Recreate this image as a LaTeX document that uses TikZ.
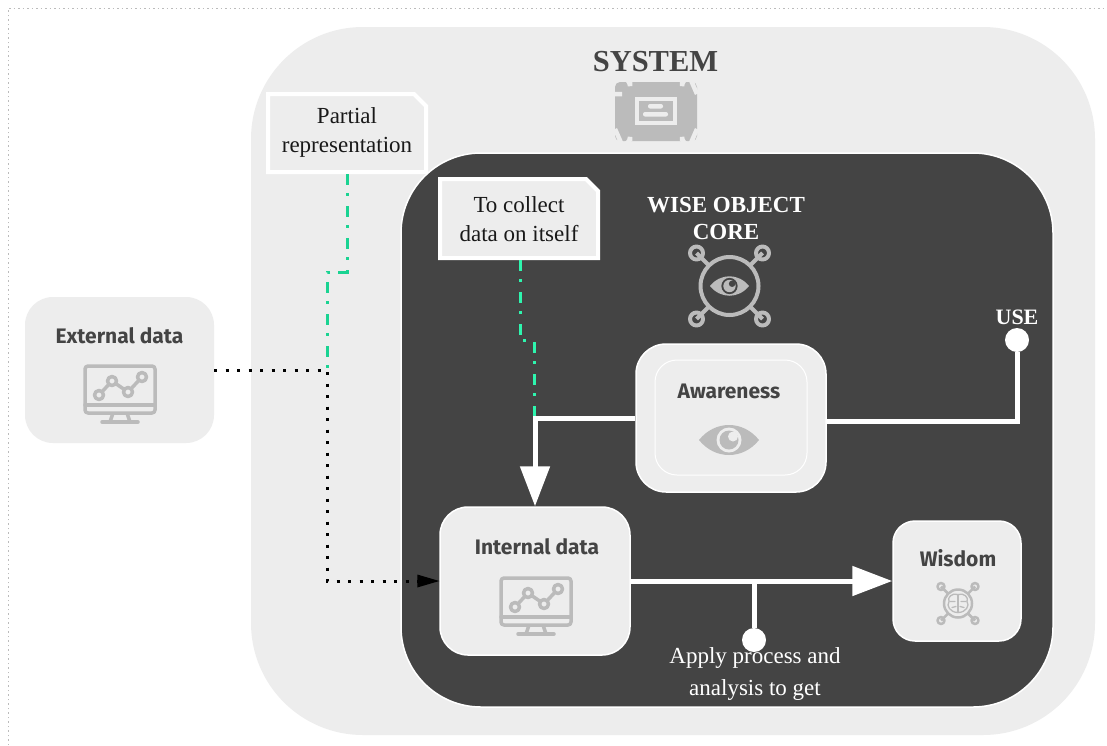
\documentclass[tikz,border=0pt]{standalone}
\usepackage{fontspec}
\setmainfont{Liberation Serif}
\newfontfamily\cardfont{Fira Sans}
\usetikzlibrary{arrows.meta,calc}
\definecolor{coredark}{HTML}{444444}
\definecolor{cardlight}{HTML}{EDEDED}
\definecolor{icongrey}{HTML}{BBBBBB}
\definecolor{greenlight}{HTML}{1AD392}
\definecolor{greendark}{HTML}{2EF5AE}
\tikzset{
  x=1pt,y=-1pt,
  card/.style={fill=cardlight,inner sep=0pt,rectangle},
  cardborder/.style={card,draw=white,line width=1.5pt},
  cardtitle/.style={inner sep=0pt,text=coredark,font=\cardfont\bfseries\fontsize{21}{25}\selectfont},
  serifbold/.style={inner sep=0pt,align=center,font=\bfseries},
  notetext/.style={inner sep=0pt,align=center,text=black!90,font=\fontsize{23}{28.5}\selectfont,minimum width=162pt},
  notebox/.style={fill=cardlight,draw=white,line width=4pt,line join=miter},
  wire/.style={draw=white,line width=5pt},
  bigtip/.style={-{Triangle[length=40pt,width=29pt,fill=white]}},
  endcap/.style={circle,fill=white,inner sep=0pt,minimum size=24pt},
  dotline/.style={draw=black,line width=3pt,dash pattern=on 3pt off 8.5pt},
  dashdot/.style={line width=3pt,dash pattern=on 11pt off 8pt on 3pt off 10pt},
  ico/.style={draw=icongrey,line width=3.5pt,line cap=round,line join=round},
  pics/monitor/.style={code={
    \draw[ico,rounded corners=3pt] (-35,-24) rectangle (35,23);
    \draw[ico] (-35,15) -- (35,15);
    \draw[ico,line cap=butt] (-7,23) -- (-10,32) (7,23) -- (10,32);
    \draw[ico] (-18,32) -- (18,32);
    \draw[ico] (-21,5) -- (-8,-9) -- (8,2) -- (22,-13);
    \foreach \p in {(-21,5),(-8,-9),(8,2),(22,-13)}
      \draw[ico,fill=cardlight] \p circle (4.5);
  }},
  pics/eyeicon/.style args={#1/#2}{code={
    % #1 scale factor, #2 background colour
    \begin{scope}[scale=#1]
    \fill[icongrey] (-30,0) .. controls (-14,-20) and (14,-20) .. (30,0) .. controls (14,20) and (-14,20) .. (-30,0) -- cycle;
    \fill[#2] (0,0) circle (12.5);
    \fill[icongrey] (0,0) circle (9.5);
    \fill[#2] (4,-3.5) circle (5);
    \end{scope}
  }},
  pics/hubarms/.style args={#1/#2/#3/#4}{code={
    % #1 hub radius, #2 node offset, #3 node radius, #4 line width
    \draw[ico,line width=#4] (0,0) circle (#1);
    \foreach \sx/\sy in {-1/-1,1/-1,-1/1,1/1}{
      \draw[ico,line width=#4,line cap=butt] (\sx*#1*0.707,\sy*#1*0.707) -- (\sx*#2,\sy*#2);
      \draw[ico,line width=#4] (\sx*#2,\sy*#2) circle (#3);
    }
  }},
}
\begin{document}
\begin{tikzpicture}
\useasboundingbox (0,0) rectangle (1107,745);
\fill[white] (0,0) rectangle (1107,745);
% page outline
\draw[icongrey,line width=1pt,dash pattern=on 1.5pt off 3pt] (8,745) -- (8,8) -- (1107,8);

% containers
\node[card,minimum width=844pt,minimum height=708pt,rounded corners=112pt] (system) at (673,381) {};
\node[cardborder,fill=coredark,minimum width=652pt,minimum height=554pt,rounded corners=80pt] (core) at (727,430) {};

% cards
\node[card,minimum width=189pt,minimum height=146pt,rounded corners=28pt] (external) at (119.5,370) {};
\node[cardborder,minimum width=190pt,minimum height=148pt,rounded corners=30pt] (aware) at (731,418) {};
\node[card,draw=white,line width=1pt,minimum width=152pt,minimum height=115pt,rounded corners=22pt] (awareinner) at (731,417.5) {};
\node[cardborder,minimum width=190pt,minimum height=148pt,rounded corners=28pt] (internal) at (535,581) {};
\node[cardborder,minimum width=128pt,minimum height=120pt,rounded corners=22pt] (wisdom) at (957,581) {};

% note shapes
\filldraw[notebox] (268,94) -- (414,94) -- (426,106) -- (426,172) -- (268,172) -- cycle;
\filldraw[notebox] (440,179) -- (586,179) -- (598,191) -- (598,258) -- (440,258) -- cycle;
\node[notetext] (partial) at (347,132.5) {Partial\\representation};
\node[notetext] (collect) at (519,219) {To collect\\data on itself};

% dotted connector
\coordinate (dotA) at (327,370);
\coordinate (dotB) at (327,581);
\draw[dotline] (external.east) -- (dotA) -- (dotB) -- ([xshift=-22pt]internal.west);
\fill[black] ([xshift=-22pt,yshift=-6.5pt]internal.west) -- (internal.west) -- ([xshift=-22pt,yshift=6.5pt]internal.west) -- cycle;

% green connectors
\coordinate (gA) at (347,272);
\coordinate (gB) at (327,272);
\draw[dashdot,draw=greenlight] (partial.center |- 0,174) -- (gA) -- (gB) -- (dotA);
\coordinate (gC) at (520,340);
\coordinate (gD) at (534,340);
\coordinate (gE) at (534,418);
\draw[dashdot,draw=greendark] (520,260) -- (gC) -- (gD) -- (gE);

% white wires
\coordinate (wA) at (535,418);
\draw[wire,bigtip] (aware.west) -- (wA) -- (internal.north);
\coordinate (wB) at (1017,421);
\node[endcap] (usecap) at (1017,340) {};
\draw[wire] ([yshift=-3pt]aware.east) -- (wB) -- (usecap);
\draw[wire,bigtip] (internal.east) -- (wisdom.west);
\coordinate (wC) at (754,581);
\node[endcap] (applycap) at (754,640) {};
\draw[wire] (wC) -- (applycap);

% titles
\node[serifbold,text=coredark,font=\bfseries\fontsize{30.5}{36}\selectfont] (systitle) at (655.5,62) {SYSTEM};
\node[serifbold,text=white,font=\bfseries\fontsize{23}{27}\selectfont] (coretitle) at (726,218) {WISE OBJECT\\CORE};
\node[serifbold,text=white,font=\bfseries\fontsize{22}{26}\selectfont] (usetext) at (1017,317) {USE};
\node[inner sep=0pt,align=center,text=white,font=\fontsize{23}{32}\selectfont] (applytext) at (755,673.5) {Apply process and\\analysis to get};

% card titles
\node[cardtitle] (t1) at (119.5,336) {External data};
\node[cardtitle] (t2) at (729,391.5) {Awareness};
\node[cardtitle] (t3) at (537,547) {Internal data};
\node[cardtitle] (t4) at (958,558) {Wisdom};

% system icon
\fill[icongrey,rounded corners=5pt] (615,82) rectangle (697,141);
\begin{scope}[draw=cardlight,line width=4.5pt]
\draw (630,82) -- (630,86) to[out=90,in=0,looseness=0] (630,86) arc[start angle=0,end angle=90,radius=8pt] (622,94) -- (615,94);
\draw (682,82) -- (682,86) arc[start angle=180,end angle=90,radius=8pt] -- (697,94);
\draw (630,141) -- (630,137) arc[start angle=0,end angle=-90,radius=8pt] -- (615,129);
\draw (682,141) -- (682,137) arc[start angle=180,end angle=270,radius=8pt] -- (697,129);
\draw (637,99) rectangle (675,123);
\end{scope}
\fill[cardlight,rounded corners=2pt] (648,104) rectangle (663,108.5);
\fill[cardlight,rounded corners=2pt] (643,112) rectangle (668,116.5);

% wise object icon
\pic at (729.5,286) {hubarms={29/33/6.5/4pt}};
\pic at (729.5,286) {eyeicon={0.65/coredark}};

% monitors
\pic at (120,390) {monitor};
\pic at (536,602) {monitor};

% awareness eye
\pic at (729,440) {eyeicon={1/cardlight}};

% wisdom icon
\pic at (958,603.5) {hubarms={14/17/3.5/2.5pt}};
\begin{scope}[shift={(958,603.5)},draw=icongrey,line width=1.3pt,line cap=round]
\draw (0,-9) -- (0,9);
\draw (0,-9) .. controls (-6,-11) and (-11,-6) .. (-9,-2) .. controls (-12,2) and (-8,9) .. (0,9);
\draw (0,-9) .. controls (6,-11) and (11,-6) .. (9,-2) .. controls (12,2) and (8,9) .. (0,9);
\draw (-8,-2) -- (-3,-2) (8,-2) -- (3,-2) (-6,4) -- (-2,3) (6,4) -- (2,3);
\end{scope}
\end{tikzpicture}
\end{document}
